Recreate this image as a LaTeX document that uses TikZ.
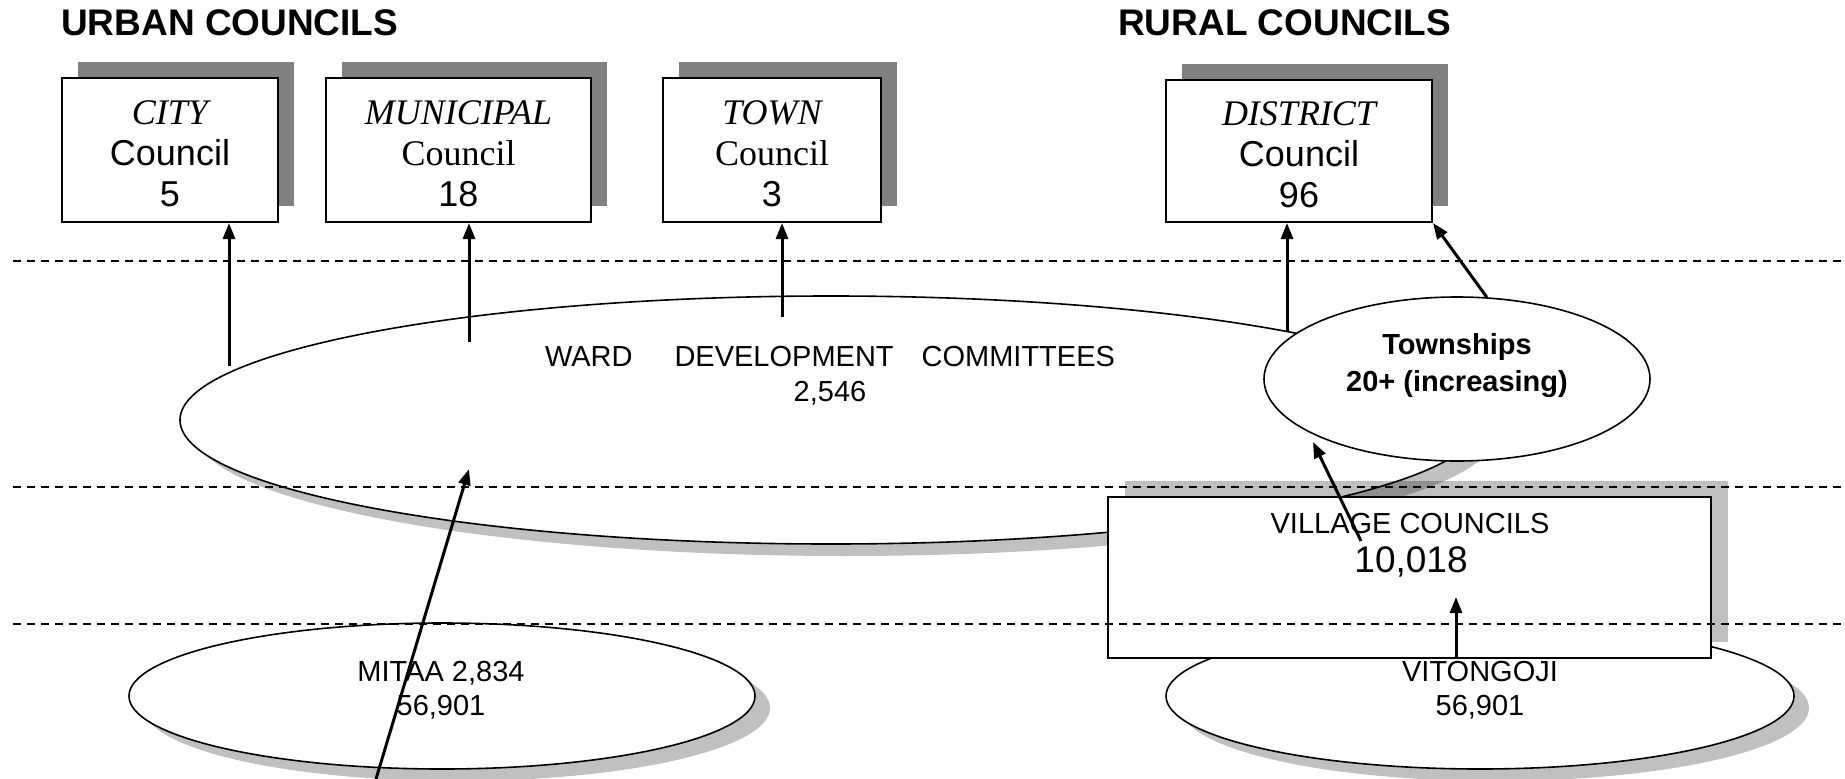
\documentclass[tikz,border=0pt]{standalone}
\usepackage{fontspec}
\setmainfont{Liberation Serif}
\setsansfont{Liberation Sans}
\usetikzlibrary{shapes.geometric,shadows,arrows.meta}
\definecolor{shadedark}{HTML}{808080}
\definecolor{shadelight}{HTML}{C0C0C0}

\begin{document}
\begin{tikzpicture}[x=1pt,y=-1pt,
  councilbox/.style={draw, line width=2pt, fill=white, inner sep=0pt,
    drop shadow={shadow xshift=16pt, shadow yshift=16pt, fill=shadedark, opacity=1}},
  boxtext/.style={align=center, inner sep=0pt, font=\sffamily\fontsize{36}{41}\selectfont},
  roundshape/.style={ellipse, draw, line width=1.6pt, fill=white, inner sep=0pt},
  ovalshadow/.style={drop shadow={shadow xshift=15pt, shadow yshift=-12pt, fill=shadelight, opacity=1}},
  labeltext/.style={align=center, inner sep=0pt, font=\sffamily\fontsize{29}{35}\selectfont},
  heading/.style={anchor=base west, inner sep=0pt, font=\sffamily\bfseries\fontsize{37}{40}\selectfont},
  levelline/.style={line width=2pt, dash pattern=on 7.5pt off 6.5pt},
  link/.style={line width=3pt, -{Triangle[length=16pt,width=12pt]}}
]
\useasboundingbox (0,0) rectangle (1845,779);

% headings
\node[heading] (urban) at (61,35) {URBAN COUNCILS};
\node[heading] (rural) at (1118,35) {RURAL COUNCILS};

% council boxes
\node[councilbox, minimum width=216pt, minimum height=144pt] (city) at (170,150) {};
\node[councilbox, minimum width=265pt, minimum height=144pt] (municipal) at (458.5,150) {};
\node[councilbox, minimum width=218pt, minimum height=144pt] (town) at (772,150) {};
\node[councilbox, minimum width=266pt, minimum height=142pt] (district) at (1299,151) {};

\node[boxtext] (citytext) at (170,154) {{\rmfamily\itshape CITY}\\Council\\5};
\node[boxtext] (munitext) at (458.5,154) {{\rmfamily\itshape MUNICIPAL}\\{\rmfamily Council}\\18};
\node[boxtext] (towntext) at (772,154) {{\rmfamily\itshape TOWN}\\{\rmfamily Council}\\3};
\node[boxtext] (disttext) at (1299,155) {{\rmfamily\itshape DISTRICT}\\Council\\96};

% ward committees, mitaa and vitongoji
\node[roundshape, ovalshadow, minimum width=1302pt, minimum height=248pt] (wdc) at (831,420) {};
\node[roundshape, ovalshadow, minimum width=626pt, minimum height=146pt] (mitaa) at (442,696) {};
\node[roundshape, ovalshadow, minimum width=628pt, minimum height=146pt] (vitongoji) at (1480,696) {};

% townships
\node[roundshape, minimum width=386pt, minimum height=164pt] (twn) at (1457,379) {};

% village councils
\node[draw, line width=1.8pt, fill=white, inner sep=0pt, minimum width=603pt, minimum height=161pt,
  drop shadow={shadow xshift=17pt, shadow yshift=16pt, fill=black, opacity=0.25}] (vc) at (1409.5,577.5) {};

% texts
\node[labeltext] (wdctext) at (830,376) {WARD\hspace{42pt}DEVELOPMENT\hspace{28pt}COMMITTEES\\2,546};
\node[labeltext, font=\sffamily\bfseries\fontsize{29}{37}\selectfont] (twntext) at (1457,366) {Townships\\20+ (increasing)};
\node[labeltext, font=\sffamily\fontsize{29}{34}\selectfont] (mitaatext) at (441,690) {MITAA 2,834\\56,901};
\node[labeltext, font=\sffamily\fontsize{29}{34}\selectfont] (vittext) at (1480,690) {VITONGOJI\\56,901};
\node[labeltext] (vctitle) at (1410,524) {VILLAGE COUNCILS};
\node[inner sep=0pt, font=\sffamily\fontsize{37}{40}\selectfont] (vcnum) at (1411,562) {10,018};

% level separators
\draw[levelline] (13,261) -- (1845,261);
\draw[levelline] (13,487) -- (1845,487);
\draw[levelline] (13,624) -- (1845,624);

% links
\coordinate (cityfoot) at (229,366);
\coordinate (munifoot) at (469,342);
\coordinate (townfoot) at (782,317);
\coordinate (distfoot) at (1287,332);
\coordinate (vcfoot) at (1361,541);
\coordinate (twnreach) at (1313,442);
\coordinate (vcreach) at (1456,597);
\coordinate (mitaafoot) at (376,779);
\coordinate (wdcreach) at (469,469);

\draw[link] (cityfoot) -- (cityfoot |- city.south);
\draw[link] (munifoot) -- (munifoot |- municipal.south);
\draw[link] (townfoot) -- (townfoot |- town.south);
\draw[link] (distfoot) -- (distfoot |- district.south);
\draw[link] (twn.70) -- (district.south east);
\draw[link] (vcfoot) -- (twnreach);
\draw[link] (vc.south -| vcreach) -- (vcreach);
\draw[link] (mitaafoot) -- (wdcreach);
\end{tikzpicture}
\end{document}
